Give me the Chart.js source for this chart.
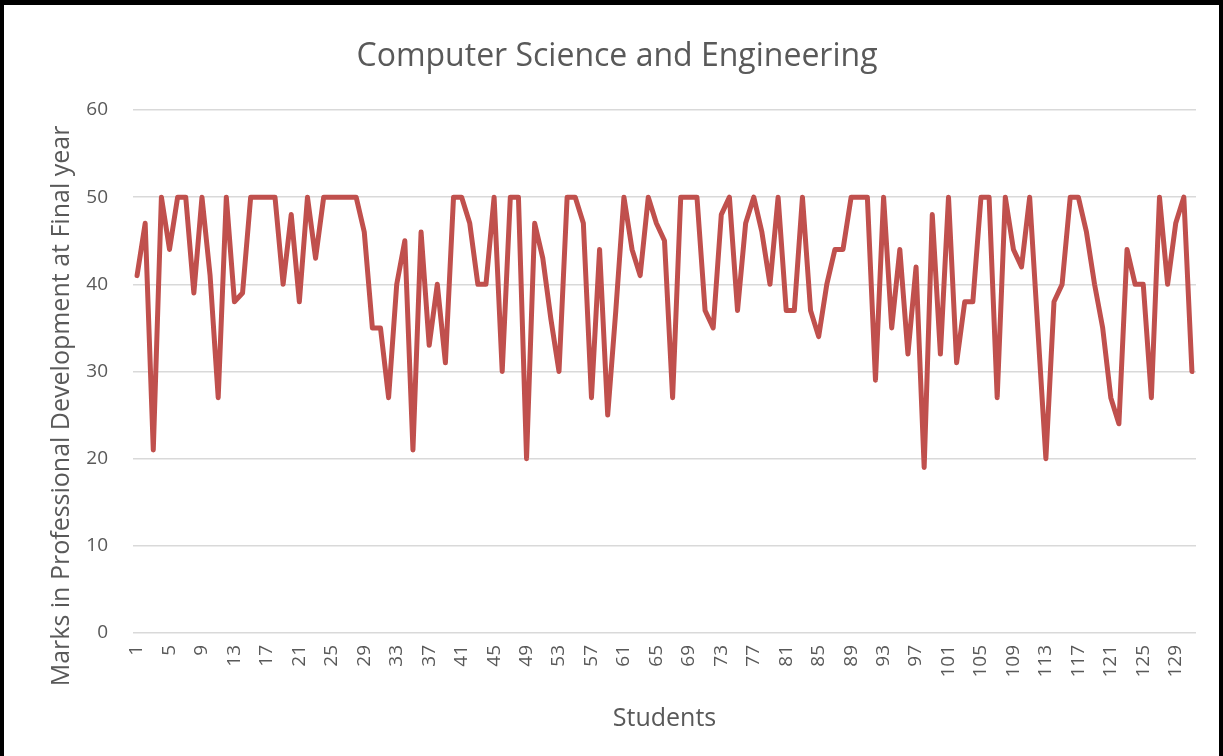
<!DOCTYPE html>
<html>
<head>
<meta charset="utf-8">
<script src="https://cdn.jsdelivr.net/npm/chart.js@4"></script>
<style>
  html, body { margin: 0; padding: 0; background: #ffffff; }
  #wrap { position: relative; width: 1223px; height: 756px; }
  #c { position: absolute; left: 0; top: 0; }
  #frame { position: absolute; left: 0; top: 0; width: 1223px; height: 756px; box-sizing: border-box;
           border-top: 5px solid #000; border-left: 4px solid #000; border-right: 4px solid #000; pointer-events: none; }
</style>
</head>
<body>
<div id="wrap">
  <canvas id="c" width="1223" height="756"></canvas>
  <div id="frame"></div>
</div>
<script>
const titleText = "Computer Science and Engineering";
const xAxisTitle = "Students";
const yAxisTitle = "Marks in Professional Development at Final year";
const yTicks = [0, 10, 20, 30, 40, 50, 60];

const marks = [
  41,47,21,50,44,50,50,39,50,41,27,50,38,39,50,50,50,50,40,48,38,50,43,50,50,50,50,50,46,35,35,27,
  40,45,21,46,33,40,31,50,50,47,40,40,50,30,50,50,20,
  47,43,36,30,50,50,47,27,44,25,37,50,44,41,50,47,
  45,27,50,50,50,37,35,48,50,37,47,50,46,40,50,37,
  37,50,37,34,40,44,44,50,50,50,29,50,35,44,32,42,
  19,48,32,50,31,38,38,50,50,27,50,44,42,50,35,20,
  38,40,50,50,46,40,35,27,24,44,40,40,27,50,40,47,50,30
];
const students = marks.map((_, i) => String(i + 1));

const textColor = '#595959';
const fontFamily = '"Open Sans", "DejaVu Sans", sans-serif';

const yTitlePlugin = {
  id: 'yTitlePlugin',
  afterDraw(chart) {
    const ctx = chart.ctx;
    ctx.save();
    ctx.fillStyle = textColor;
    ctx.font = '25px ' + fontFamily;
    ctx.textAlign = 'center';
    ctx.textBaseline = 'middle';
    ctx.translate(62, 406);
    ctx.rotate(-Math.PI / 2);
    ctx.fillText(yAxisTitle, 0, 0);
    ctx.restore();
  }
};

new Chart(document.getElementById('c'), {
  type: 'line',
  data: {
    labels: students,
    datasets: [{
      label: 'Marks',
      data: marks,
      borderColor: '#C0504D',
      backgroundColor: '#C0504D',
      borderWidth: 5,
      pointRadius: 0,
      tension: 0,
      borderJoinStyle: 'round',
      borderCapStyle: 'round'
    }]
  },
  options: {
    responsive: false,
    animation: false,
    layout: { padding: { left: 38, right: 27, top: 0, bottom: 0 } },
    plugins: {
      legend: { display: false },
      tooltip: { enabled: false },
      title: {
        display: true,
        text: titleText,
        color: textColor,
        font: { family: fontFamily, size: 32, weight: 'normal', lineHeight: 1.2 },
        padding: { top: 38, bottom: 33.6 }
      }
    },
    scales: {
      x: {
        offset: true,
        grid: { display: false, drawTicks: false },
        border: { display: false },
        ticks: {
          autoSkip: false,
          maxRotation: 90,
          minRotation: 90,
          padding: 12,
          color: textColor,
          font: { family: fontFamily, size: 19 },
          callback: function(value, index) { return index % 4 === 0 ? students[index] : null; }
        },
        title: {
          display: true,
          text: xAxisTitle,
          color: textColor,
          font: { family: fontFamily, size: 25 },
          padding: { top: 0, bottom: 22 }
        },
        afterFit(scale) { scale.height = 123; }
      },
      y: {
        min: 0,
        max: 60,
        afterBuildTicks(scale) { scale.ticks = yTicks.map(v => ({ value: v })); },
        grid: { color: '#d9d9d9', lineWidth: 1.5, drawTicks: false },
        border: { display: false },
        ticks: {
          padding: 25,
          color: textColor,
          font: { family: fontFamily, size: 19 }
        },
        afterFit(scale) { scale.width = 95; }
      }
    }
  },
  plugins: [yTitlePlugin]
});
</script>
</body>
</html>
